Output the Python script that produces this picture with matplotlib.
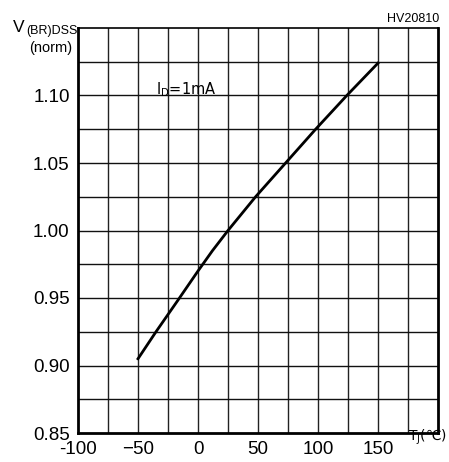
import numpy as np
import matplotlib
matplotlib.use("Agg")
import matplotlib.pyplot as plt

plt.rcParams['font.family'] = ['Liberation Sans', 'DejaVu Sans']
plt.rcParams['mathtext.fontset'] = 'custom'
plt.rcParams['mathtext.rm'] = 'DejaVu Sans'

# normalised breakdown voltage vs junction temperature, ID = 1mA
tj = [-50, -35, -17, 0, 12, 25, 48, 73, 98, 124, 150]
v_norm = [0.905, 0.925, 0.948, 0.970, 0.985, 1.000, 1.025, 1.050, 1.075, 1.100, 1.124]

x_ticks = [-100, -50, 0, 50, 100, 150]
x_labels = ['-100', '\u221250', '0', '50', '100', '150']
y_ticks = [0.85, 0.90, 0.95, 1.00, 1.05, 1.10]
y_labels = ['0.85', '0.90', '0.95', '1.00', '1.05', '1.10']

W, H = 449, 462
fig = plt.figure(figsize=(W / 100, H / 100), dpi=100)
ax = fig.add_axes([78 / W, 1 - 433 / H, 360 / W, 405 / H])

ax.set_xlim(-100, 200)
ax.set_ylim(0.85, 1.15)

# grid every 25 degC and every 0.025
for gx in np.arange(-75, 200, 25):
    ax.axvline(gx, color='#222222', lw=1.0, zorder=1)
for gy in np.arange(0.875, 1.15, 0.025):
    ax.axhline(gy, color='#111111', lw=1.0, zorder=1)

ax.plot(tj, v_norm, color='black', lw=2.0, zorder=3)

ax.set_xticks(x_ticks)
ax.set_xticklabels(x_labels, fontsize=13.5)
ax.set_yticks(y_ticks)
ax.set_yticklabels(y_labels, fontsize=13.5)
ax.tick_params(length=0, pad=6)

for side in ['left', 'bottom', 'right']:
    ax.spines[side].set_linewidth(2.0)
ax.spines['top'].set_linewidth(1.2)

ax.text(-10, 1.1045, r'I$_{\mathregular{D}}$=1mA', fontsize=10.5, family='DejaVu Sans',
        ha='center', va='center', color='black')

fig.text(13 / W, 1 - 27 / H, 'V', fontsize=12.5, ha='left', va='center')
fig.text(26 / W, 1 - 31 / H, '(BR)DSS', fontsize=9, ha='left', va='center')
fig.text(72 / W, 1 - 48 / H, '(norm)', fontsize=10.5, ha='right', va='center')
fig.text(439 / W, 1 - 19 / H, 'HV20810', fontsize=9, ha='right', va='center')
fig.text(447 / W, 1 - 437 / H, r'T$_{\mathregular{J}}$(' + '\u2103)', fontsize=10,
         ha='right', va='center', family=['DejaVu Sans'])

fig.savefig('out.png', dpi=100)
